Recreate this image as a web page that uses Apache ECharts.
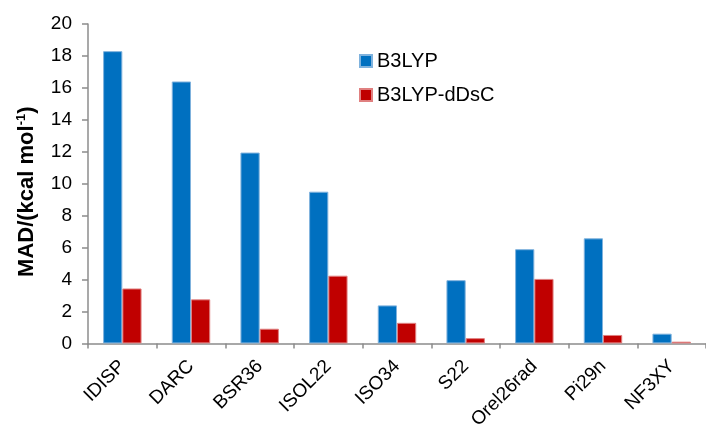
<!DOCTYPE html>
<html><head><meta charset="utf-8">
<script src="https://cdn.jsdelivr.net/npm/echarts@6/dist/echarts.min.js"></script>
<style>html,body{margin:0;padding:0;background:#fff}#c{width:706px;height:432px}</style>
</head><body><div id="c"></div>
<script>
var categories = ['IDISP','DARC','BSR36','ISOL22','ISO34','S22','Orel26rad','Pi29n','NF3XY'];
var b3lyp = [18.3, 16.4, 11.95, 9.5, 2.38, 3.96, 5.9, 6.58, 0.61];
var b3lypDDsC = [3.44, 2.76, 0.92, 4.24, 1.29, 0.33, 4.04, 0.53, 0.11];
var yTicks = [0, 2, 4, 6, 8, 10, 12, 14, 16, 18, 20];

var chart = echarts.init(document.getElementById('c'), null, {renderer: 'canvas'});
var font = 'Liberation Sans, Arial, sans-serif';
chart.setOption({
  animation: false,
  textStyle: {fontFamily: font},
  grid: {left: 88, top: 24, height: 320, width: 627, containLabel: false},
  legend: {
    orient: 'vertical', left: 359, top: 51, padding: 0, itemWidth: 12, itemHeight: 12, itemGap: 14,
    icon: 'rect',
    textStyle: {fontSize: 20, color: '#000', fontFamily: font},
    data: ['B3LYP', 'B3LYP-dDsC']
  },
  xAxis: {
    type: 'category', data: categories,
    axisLine: {lineStyle: {color: '#8c8c8c', width: 1.5}},
    axisTick: {show: true, length: 5, lineStyle: {color: '#8c8c8c', width: 1.5}},
    axisLabel: {rotate: 45, fontSize: 19, color: '#000', margin: 20, fontFamily: font, interval: 0}
  },
  yAxis: {
    type: 'value', min: 0, max: 20, interval: 2,
    name: '{a|MAD/(kcal mol}{s|-1}{a|)}',
    nameLocation: 'middle', nameGap: 49, nameRotate: 90,
    nameTextStyle: {
      padding: [0, 16, 0, 0],
      rich: {
        a: {fontSize: 22, fontWeight: 'bold', color: '#000', fontFamily: font},
        s: {fontSize: 13, fontWeight: 'bold', color: '#000', fontFamily: font, padding: [0, 0, 11, 0]}
      }
    },
    axisLine: {show: true, lineStyle: {color: '#8c8c8c', width: 1.5}},
    axisTick: {show: true, length: 6, lineStyle: {color: '#8c8c8c', width: 1.5}},
    axisLabel: {fontSize: 19, color: '#000', margin: 16, fontFamily: font,
      formatter: function (v) { return yTicks.indexOf(v) >= 0 ? String(v) : ''; }},
    splitLine: {show: false}
  },
  series: [
    {name: 'B3LYP', type: 'bar', data: b3lyp, barGap: '0%', barCategoryGap: '44%',
     itemStyle: {color: '#0070C0', borderColor: '#7fb2dd', borderWidth: 1}},
    {name: 'B3LYP-dDsC', type: 'bar', data: b3lypDDsC, barGap: '0%', barCategoryGap: '44%',
     itemStyle: {color: '#C00000', borderColor: '#e08080', borderWidth: 1}}
  ]
});
</script></body></html>
